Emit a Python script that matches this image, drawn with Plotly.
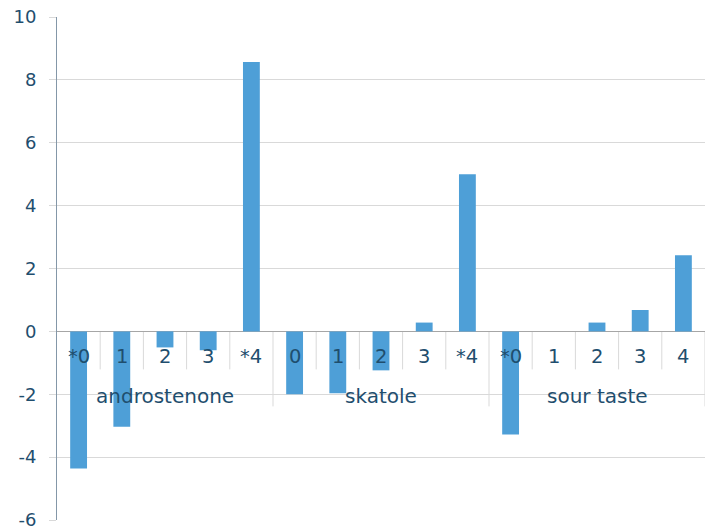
import plotly.graph_objects as go

groups = ["androstenone", "skatole", "sour taste"]
categories = [
    ["*0", "1", "2", "3", "*4"],
    ["0", "1", "2", "3", "*4"],
    ["*0", "1", "2", "3", "4"],
]
values = [
    [-4.36, -3.03, -0.51, -0.6, 8.57],
    [-2.0, -1.97, -1.24, 0.28, 5.0],
    [-3.28, 0.0, 0.28, 0.68, 2.42],
]
y_ticks = [-6, -4, -2, 0, 2, 4, 6, 8, 10]
y_tick_text = [str(t) for t in y_ticks]  # plain hyphen, not unicode minus

TEXT = "#1F4E6E"
FONT = "Verdana, DejaVu Sans, sans-serif"

# flatten into one index per bar
xs, ys, labels = [], [], []
for cats, vals in zip(categories, values):
    for c, v in zip(cats, vals):
        xs.append(len(xs))
        ys.append(v)
        labels.append(c)

fig = go.Figure(go.Bar(x=xs, y=ys, width=0.39, marker_color="#4E9FD7",
                       marker_line_width=0))

annotations = []
shapes = []
for x, lab in zip(xs, labels):
    annotations.append(dict(x=x, y=0, text=lab, showarrow=False, yshift=-25,
                            font=dict(size=19.5, color=TEXT, family=FONT)))

start = 0
for g, cats in zip(groups, categories):
    end = start + len(cats) - 1
    annotations.append(dict(x=(start + end) / 2, y=0, text=g, showarrow=False,
                            yshift=-65, font=dict(size=20, color=TEXT, family=FONT)))
    # separators between categories (short) and at group end (long)
    for b in range(start, end + 1):
        length = 75 if b == end else 38
        shapes.append(dict(type="line", xref="x", yref="y", ysizemode="pixel",
                           yanchor=0, x0=b + 0.5, x1=b + 0.5, y0=0, y1=-length,
                           line=dict(color="#D9D9D9", width=1), layer="below"))
    start = end + 1

fig.update_layout(
    width=711, height=529,
    margin=dict(l=57, r=6, t=17, b=9),
    plot_bgcolor="white", paper_bgcolor="white",
    showlegend=False,
    annotations=annotations, shapes=shapes,
    font=dict(family=FONT, color=TEXT, size=18),
    xaxis=dict(range=[-0.5, len(xs) - 0.5], showticklabels=False, showgrid=False,
               zeroline=False, ticks="", showline=False, fixedrange=True,
               automargin=False),
    yaxis=dict(range=[-6, 10], tickvals=y_ticks, ticktext=y_tick_text,
               showgrid=True, gridcolor="#D9D9D9",
               gridwidth=1, zeroline=True, zerolinecolor="#A6A6A6", zerolinewidth=1,
               showline=True, linecolor="#8497A8", linewidth=1,
               ticks="outside", ticklen=7, tickcolor="#D9D9D9",
               ticklabelstandoff=9, tickfont=dict(size=18, color=TEXT),
               ticklabeloverflow="allow", automargin=False),
)

# drop the default 8px page margin so the figure fills the window
fig.write_html("out.html", config={"displayModeBar": False},
               post_script="document.body.style.margin='0';document.body.style.overflow='hidden';")
